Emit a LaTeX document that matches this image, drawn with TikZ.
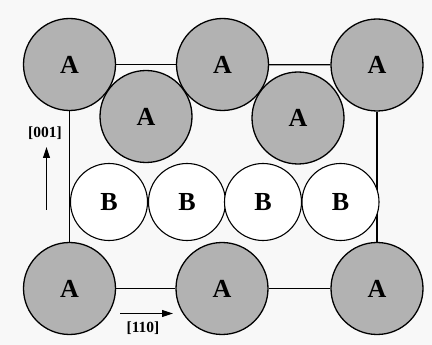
\documentclass[tikz,border=0pt]{standalone}
\usepackage{fontspec}
\setmainfont{Liberation Serif}
\usetikzlibrary{arrows.meta}
\definecolor{bgcol}{RGB}{248,248,248}
\definecolor{agray}{RGB}{178,178,178}
\begin{document}
\begin{tikzpicture}[x=1pt,y=-1pt,
  atom/.style={circle,draw=black,line width=1.3pt,fill=agray,minimum size=92pt,inner sep=0pt,font=\fontsize{26}{26}\selectfont\bfseries},
  batom/.style={circle,draw=black,line width=1.1pt,fill=white,minimum size=77pt,inner sep=0pt,font=\fontsize{26}{26}\selectfont\bfseries},
  cell/.style={line width=1.3pt,draw=black},
  dir/.style={line width=1.1pt,-{Triangle[length=11pt,width=7pt]}},
  lab/.style={font=\fontsize{15.5}{15.5}\selectfont\bfseries,inner sep=0pt}]
\fill[bgcol] (0,0) rectangle (432,345);
\useasboundingbox (0,0) rectangle (432,345);
% atoms
\node[atom] (tl) at (69.5,64.5) {A};
\node[atom] (tm) at (222.5,64.5) {A};
\node[atom] (tr) at (377,65) {A};
\node[atom] (bl) at (69.5,288.5) {A};
\node[atom] (bm) at (222,288.5) {A};
\node[atom] (br) at (377,288.5) {A};
% cell edges
\draw[cell] (tl) -- (tm);
\draw[cell] (tm) -- (tr);
\draw[cell] (bl) -- (bm);
\draw[cell] (bm) -- (br);
\draw[cell] (tl.south) -- (bl.north);
\draw[cell] (tr.south) -- (br.north);
% B atoms
\node[batom] (b1) at (109,202) {B};
\node[batom] (b2) at (187,202) {B};
\node[batom] (b3) at (263,202) {B};
\node[batom] (b4) at (340.5,202) {B};
% middle A atoms
\node[atom] (ml) at (146,116.5) {A};
\node[atom] (mr) at (298,118) {A};
% directions
\coordinate (v0) at (46.5,210);
\coordinate (v1) at (46.5,147);
\draw[dir] (v0) -- (v1);
\node[lab] (l001) at (45,133) {[001]};
\coordinate (h0) at (120,313.5);
\coordinate (h1) at (173,313.5);
\draw[dir] (h0) -- (h1);
\node[lab] (l110) at (143,328) {[110]};
\end{tikzpicture}
\end{document}
